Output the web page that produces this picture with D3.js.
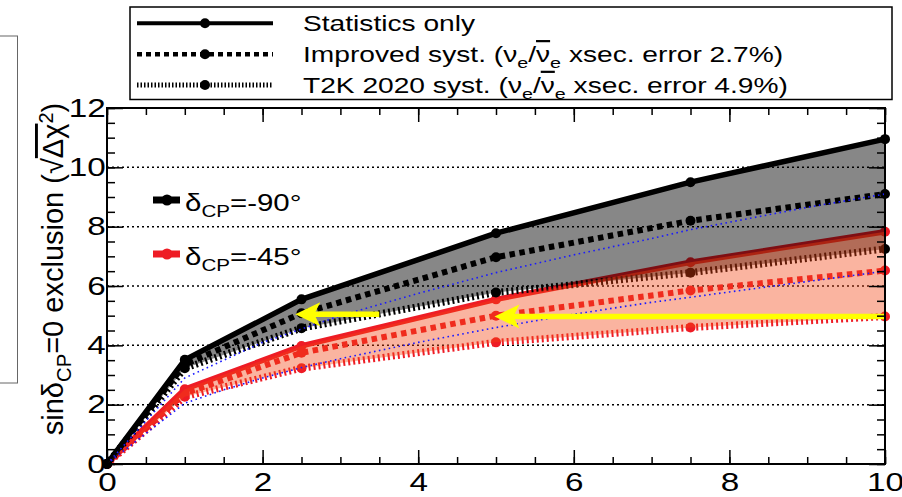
<!DOCTYPE html>
<html>
<head>
<meta charset="utf-8">
<script src="https://cdn.jsdelivr.net/npm/d3@7"></script>
<style>
  body { margin: 0; background: #fff; }
  svg { display: block; font-family: "Liberation Sans", Arial, Helvetica, sans-serif; }
</style>
</head>
<body>
<div id="chart"></div>
<script>
// exposure points on the x axis
const exposure = [0, 1, 2.5, 5, 7.5, 10];

// delta_CP = -90 deg
const m90Stat = [0, 3.51, 5.55, 7.78, 9.50, 10.95];
const m90Impr = [0, 3.36, 5.08, 6.97, 8.20, 9.10];
const m90T2K  = [0, 3.23, 4.58, 5.78, 6.45, 7.25];

// delta_CP = -45 deg
const m45Stat = [0, 2.52, 3.98, 5.55, 6.80, 7.83];
const m45Impr = [0, 2.38, 3.75, 5.00, 5.85, 6.52];
const m45T2K  = [0, 2.27, 3.23, 4.10, 4.60, 4.97];

// thin blue dotted reference curves
const blueX  = [0, 1, 1.5, 2, 2.5, 3, 4, 5, 6, 7, 7.5, 8, 9, 10];
const blue90 = [0, 2.9, 3.5, 4.1, 4.55, 5.0, 5.75, 6.45, 7.05, 7.6, 7.9, 8.15, 8.65, 9.1];
const blue45 = [0, 2.05, 2.5, 2.9, 3.25, 3.55, 4.1, 4.6, 5.05, 5.45, 5.62, 5.8, 6.15, 6.5];

// yellow arrows [x, y] in data units
const arrowFrom = [[3.5, 5.05], [10, 4.97]];
const arrowTo   = [[2.42, 5.05], [4.98, 4.97]];

const xTicks = [0, 2, 4, 6, 8, 10];
const yTicks = [0, 2, 4, 6, 8, 10, 12];
const gridY = [2, 4, 6, 8, 10];
const deltaLabels = ["-90°", "-45°"];

const width = 902, height = 497;
const plot = {left: 107, right: 885, top: 108, bottom: 464};
const SX = 1.28;   // text in the picture is drawn a bit wide
const RED = "#ee1c25";

const svg = d3.select("#chart").append("svg")
    .attr("width", width).attr("height", height);

const x = d3.scaleLinear().domain([0, 10]).range([plot.left, plot.right]);
const y = d3.scaleLinear().domain([0, 12]).range([plot.bottom, plot.top]);

// text helper: places a stretched text node
function label(parent, px, py, size, anchor) {
    return parent.append("text")
        .attr("transform", "translate(" + px + "," + py + ") scale(" + SX + ",1)")
        .attr("font-size", size)
        .attr("text-anchor", anchor || "start");
}
function sub(t, s, size) {
    t.append("tspan").attr("dy", size * 0.28).attr("font-size", size * 0.7).text(s);
    return t.append("tspan").attr("dy", -size * 0.28);
}

// left partial box (cut off)
svg.append("rect").attr("x", -5).attr("y", 36).attr("width", 22.5).attr("height", 347)
    .attr("fill", "none").attr("stroke", "#666").attr("stroke-width", 1);

// grid
svg.append("g").selectAll("line").data(gridY).enter().append("line")
    .attr("x1", plot.left).attr("x2", plot.right)
    .attr("y1", d => y(d)).attr("y2", d => y(d))
    .attr("stroke", "#000").attr("stroke-width", 1.5).attr("stroke-dasharray", "2,3");

const styles = [
    {dash: null, w: 5.5},
    {dash: "5.5,4.5", w: 6},
    {dash: "2,3", w: 7}
];

function drawSeries(g, vals, st, color) {
    const line = d3.line().x((d, i) => x(exposure[i])).y(d => y(d));
    g.append("path").datum(vals).attr("d", line)
        .attr("fill", "none").attr("stroke", color)
        .attr("stroke-width", st.w).attr("stroke-dasharray", st.dash);
    g.selectAll(null).data(vals).enter().append("circle")
        .attr("cx", (d, i) => x(exposure[i])).attr("cy", d => y(d))
        .attr("r", 5).attr("fill", color);
}

const lines = svg.append("g");
[m45Stat, m45Impr, m45T2K].forEach((v, i) => drawSeries(lines, v, styles[i], RED));
[m90Stat, m90Impr, m90T2K].forEach((v, i) => drawSeries(lines, v, styles[i], "#000"));

// bands
const band = (hi, lo) => d3.area()
    .x((d, i) => x(exposure[i]))
    .y0((d, i) => y(lo[i]))
    .y1((d, i) => y(hi[i]))(exposure);
svg.append("path").attr("d", band(m90Stat, m90T2K))
    .attr("fill", "#000").attr("fill-opacity", 0.47);
svg.append("path").attr("d", band(m45Stat, m45T2K))
    .attr("fill", "rgb(242,67,17)").attr("fill-opacity", 0.4);

// blue dotted curves
const blueLine = d3.line().x((d, i) => x(blueX[i])).y(d => y(d));
[blue90, blue45].forEach(v => {
    svg.append("path").datum(v).attr("d", blueLine)
        .attr("fill", "none").attr("stroke", "#1a1aff")
        .attr("stroke-width", 1.6).attr("stroke-dasharray", "1.6,3.4");
});

// yellow arrows
arrowFrom.forEach((f, i) => {
    const t = arrowTo[i];
    const x0 = x(f[0]), y0 = y(f[1]), x1 = x(t[0]), y1 = y(t[1]);
    svg.append("line").attr("x1", x0).attr("y1", y0).attr("x2", x1 + 18).attr("y2", y1)
        .attr("stroke", "#ffff00").attr("stroke-width", 5.5);
    svg.append("path")
        .attr("d", "M" + x1 + "," + y1 + "L" + (x1 + 25) + "," + (y1 - 12) +
                   "L" + (x1 + 19) + "," + y1 + "L" + (x1 + 25) + "," + (y1 + 12) + "Z")
        .attr("fill", "#ffff00");
});

// axes with ticks on all four sides
function styleAxis(g) {
    g.select(".domain").remove();
    g.selectAll(".tick line").attr("stroke", "#000").attr("stroke-width", 1.5);
    g.selectAll("text").attr("font-size", 26).attr("fill", "#000")
        .attr("font-family", "\"Liberation Sans\", Arial, sans-serif");
}
const minorX = d3.range(0, 10.01, 0.5);
const minorY = d3.range(0, 12.01, 0.5);

svg.append("g").attr("transform", "translate(0," + plot.bottom + ")")
    .call(d3.axisBottom(x).tickValues(xTicks).tickSize(-14).tickPadding(9).tickFormat(d3.format("d")))
    .call(styleAxis)
    .call(g => g.selectAll("text").attr("transform", "scale(" + SX + ",1)"));
svg.append("g").attr("transform", "translate(0," + plot.bottom + ")")
    .call(d3.axisBottom(x).tickValues(minorX).tickSize(-7).tickFormat("")).call(styleAxis);
svg.append("g").attr("transform", "translate(0," + plot.top + ")")
    .call(d3.axisTop(x).tickValues(xTicks).tickSize(-14).tickFormat("")).call(styleAxis);
svg.append("g").attr("transform", "translate(0," + plot.top + ")")
    .call(d3.axisTop(x).tickValues(minorX).tickSize(-7).tickFormat("")).call(styleAxis);

svg.append("g").attr("transform", "translate(" + plot.left + ",0)")
    .call(d3.axisLeft(y).tickValues(yTicks).tickSize(-16).tickPadding(1).tickFormat(d3.format("d")))
    .call(styleAxis)
    .call(g => g.selectAll("text").attr("transform", "scale(" + SX + ",1)"));
svg.append("g").attr("transform", "translate(" + plot.left + ",0)")
    .call(d3.axisLeft(y).tickValues(minorY).tickSize(-8).tickFormat("")).call(styleAxis);
svg.append("g").attr("transform", "translate(" + plot.right + ",0)")
    .call(d3.axisRight(y).tickValues(yTicks).tickSize(-16).tickFormat("")).call(styleAxis);
svg.append("g").attr("transform", "translate(" + plot.right + ",0)")
    .call(d3.axisRight(y).tickValues(minorY).tickSize(-8).tickFormat("")).call(styleAxis);

svg.append("rect").attr("x", plot.left).attr("y", plot.top)
    .attr("width", plot.right - plot.left).attr("height", plot.bottom - plot.top)
    .attr("fill", "none").attr("stroke", "#000").attr("stroke-width", 2);

// y axis title
const yt = svg.append("text")
    .attr("transform", "translate(63,269) rotate(-90)")
    .attr("font-size", 29).attr("text-anchor", "middle");
yt.append("tspan").text("sinδ");
let tt = sub(yt, "CP", 29);
tt.text("=0 exclusion (√");
yt.append("tspan").style("text-decoration", "overline").text("Δχ");
yt.append("tspan").attr("dy", -10).attr("font-size", 20).text("2");
yt.append("tspan").attr("dy", 10).text(")");

// in-plot legend for delta_CP
[["#000", 200], [RED, 254]].forEach((c, i) => {
    svg.append("line").attr("x1", 153).attr("x2", 180).attr("y1", c[1]).attr("y2", c[1])
        .attr("stroke", c[0]).attr("stroke-width", 7);
    svg.append("circle").attr("cx", 167).attr("cy", c[1]).attr("r", 5.5).attr("fill", c[0]);
    const t = label(svg, 185, c[1] + 11, 23);
    t.append("tspan").text("δ");
    sub(t, "CP", 23).text("=" + deltaLabels[i]);
});

// top legend
svg.append("rect").attr("x", 130).attr("y", 7).attr("width", 762).attr("height", 92.5)
    .attr("fill", "#fff").attr("stroke", "#000").attr("stroke-width", 1.5);
const legRows = [23.3, 54.3, 85];
const legStyles = [{dash: null, w: 4}, {dash: "5,4", w: 4.5}, {dash: "1.5,2", w: 5}];
legRows.forEach((ry, i) => {
    svg.append("line").attr("x1", 137).attr("x2", 273).attr("y1", ry).attr("y2", ry)
        .attr("stroke", "#000").attr("stroke-width", legStyles[i].w)
        .attr("stroke-dasharray", legStyles[i].dash);
    svg.append("circle").attr("cx", 205).attr("cy", ry).attr("r", 5).attr("fill", "#000");
});
label(svg, 303, legRows[0] + 7.5, 22).text("Statistics only");
["Improved syst.", "T2K 2020 syst."].forEach((name, k) => {
    const err = k === 0 ? "2.7%" : "4.9%";
    const t = label(svg, 303, legRows[k + 1] + 7.5, 22);
    t.append("tspan").text(name + " (ν");
    sub(t, "e", 22).text("/");
    t.append("tspan").style("text-decoration", "overline").text("ν");
    sub(t, "e", 22).text(" xsec. error " + err + ")");
});
</script>
</body>
</html>
